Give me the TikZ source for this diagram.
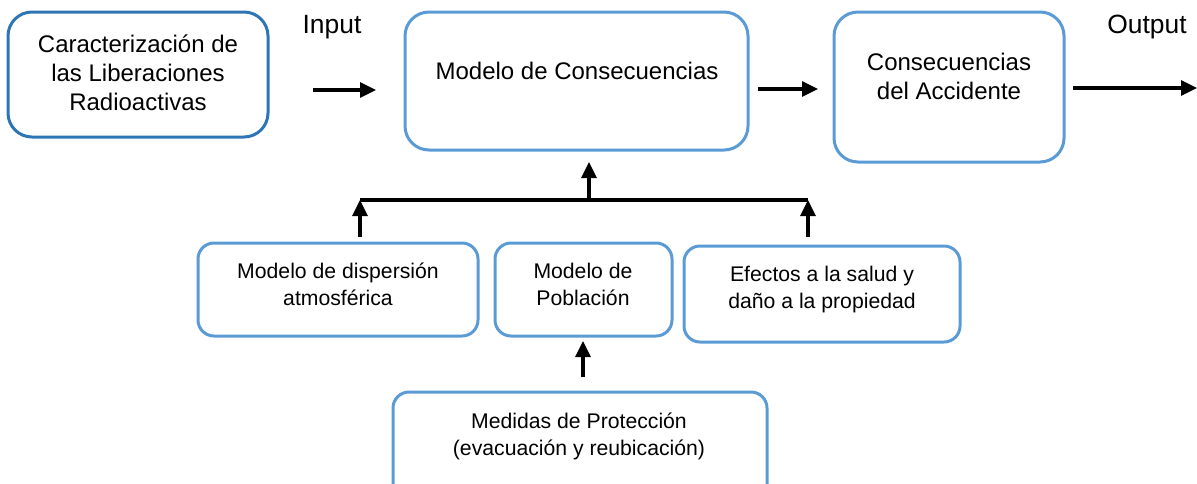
\documentclass[tikz,border=0pt]{standalone}
\usepackage{fontspec}
\setmainfont{Liberation Sans}
\usetikzlibrary{arrows.meta}
\definecolor{darkblue}{HTML}{2E75B6}
\definecolor{lightblue}{HTML}{5B9BD5}
\tikzset{
  box/.style={draw=lightblue, line width=1.5pt, rounded corners=12pt, anchor=north west, inner sep=0pt, outer sep=0pt},
  smallbox/.style={box, rounded corners=8pt},
  bigtxt/.style={font=\fontsize{12}{14.5}\selectfont, align=center, anchor=base, inner sep=0pt},
  smalltxt/.style={font=\fontsize{10.6}{13.5}\selectfont, align=center, anchor=base, inner sep=0pt},
  iotxt/.style={font=\fontsize{13.2}{15}\selectfont, anchor=base, inner sep=0pt},
  arr/.style={line width=1.6pt, -{Triangle[length=8pt,width=7.5pt]}},
  bus/.style={line width=1.6pt}
}
\begin{document}
\begin{tikzpicture}[x=0.5pt,y=-0.5pt]
\useasboundingbox (0,0) rectangle (1197,483);
% boxes
\node[box, draw=darkblue, minimum width=130pt, minimum height=62.5pt] (b1) at (8,12) {};
\node[box, minimum width=171.5pt, minimum height=69pt] (b2) at (405,12) {};
\node[box, minimum width=115pt, minimum height=75pt] (b3) at (834,12) {};
\node[smallbox, minimum width=140pt, minimum height=46.5pt] (b4) at (198,243) {};
\node[smallbox, minimum width=88.5pt, minimum height=46.5pt] (b5) at (495,243) {};
\node[smallbox, minimum width=138pt, minimum height=48pt] (b6) at (684,246) {};
\node[smallbox, minimum width=187pt, minimum height=60pt] (b7) at (393,392) {};
% texts (anchor base = baseline of last line)
\node[bigtxt] (t1) at (138,110) {Caracterización de\\las Liberaciones\\Radioactivas};
\node[bigtxt] (t2) at (577,79) {Modelo de Consecuencias};
\node[bigtxt] (t3) at (949,99) {Consecuencias\\del Accidente};
\node[smalltxt] (t4) at (338,305) {Modelo de dispersión\\atmosférica};
\node[smalltxt] (t5) at (583,305) {Modelo de\\Población};
\node[smalltxt] (t6) at (822,308) {Efectos a la salud y\\daño a la propiedad};
\node[smalltxt] (t7) at (579,455) {Medidas de Protección\\(evacuación y reubicación)};
\node[iotxt] (in) at (332,33) {Input};
\node[iotxt] (out) at (1147,33) {Output};
% connector coordinates
\coordinate (a1s) at (313,90);
\coordinate (a1e) at (376,90);
\coordinate (a2s) at (758,89);
\coordinate (a2e) at (818,89);
\coordinate (a3s) at (1073,88);
\coordinate (a3e) at (1197,88);
\coordinate (busL) at (360,200);
\coordinate (busR) at (808,200);
\coordinate (busM) at (589,200);
\coordinate (b4top) at (360,237);
\coordinate (b6top) at (808,237);
\coordinate (b2bot) at (589,162);
\coordinate (b7top) at (583,377);
\coordinate (b5bot) at (583,341);
% connectors
\draw[arr] (a1s) -- (a1e);
\draw[arr] (a2s) -- (a2e);
\draw[arr] (a3s) -- (a3e);
\draw[bus] (busL) -- (busR);
\draw[arr] (b4top) -- (busL);
\draw[arr] (b6top) -- (busR);
\draw[arr] (busM) -- (b2bot);
\draw[arr] (b7top) -- (b5bot);
\end{tikzpicture}
\end{document}
